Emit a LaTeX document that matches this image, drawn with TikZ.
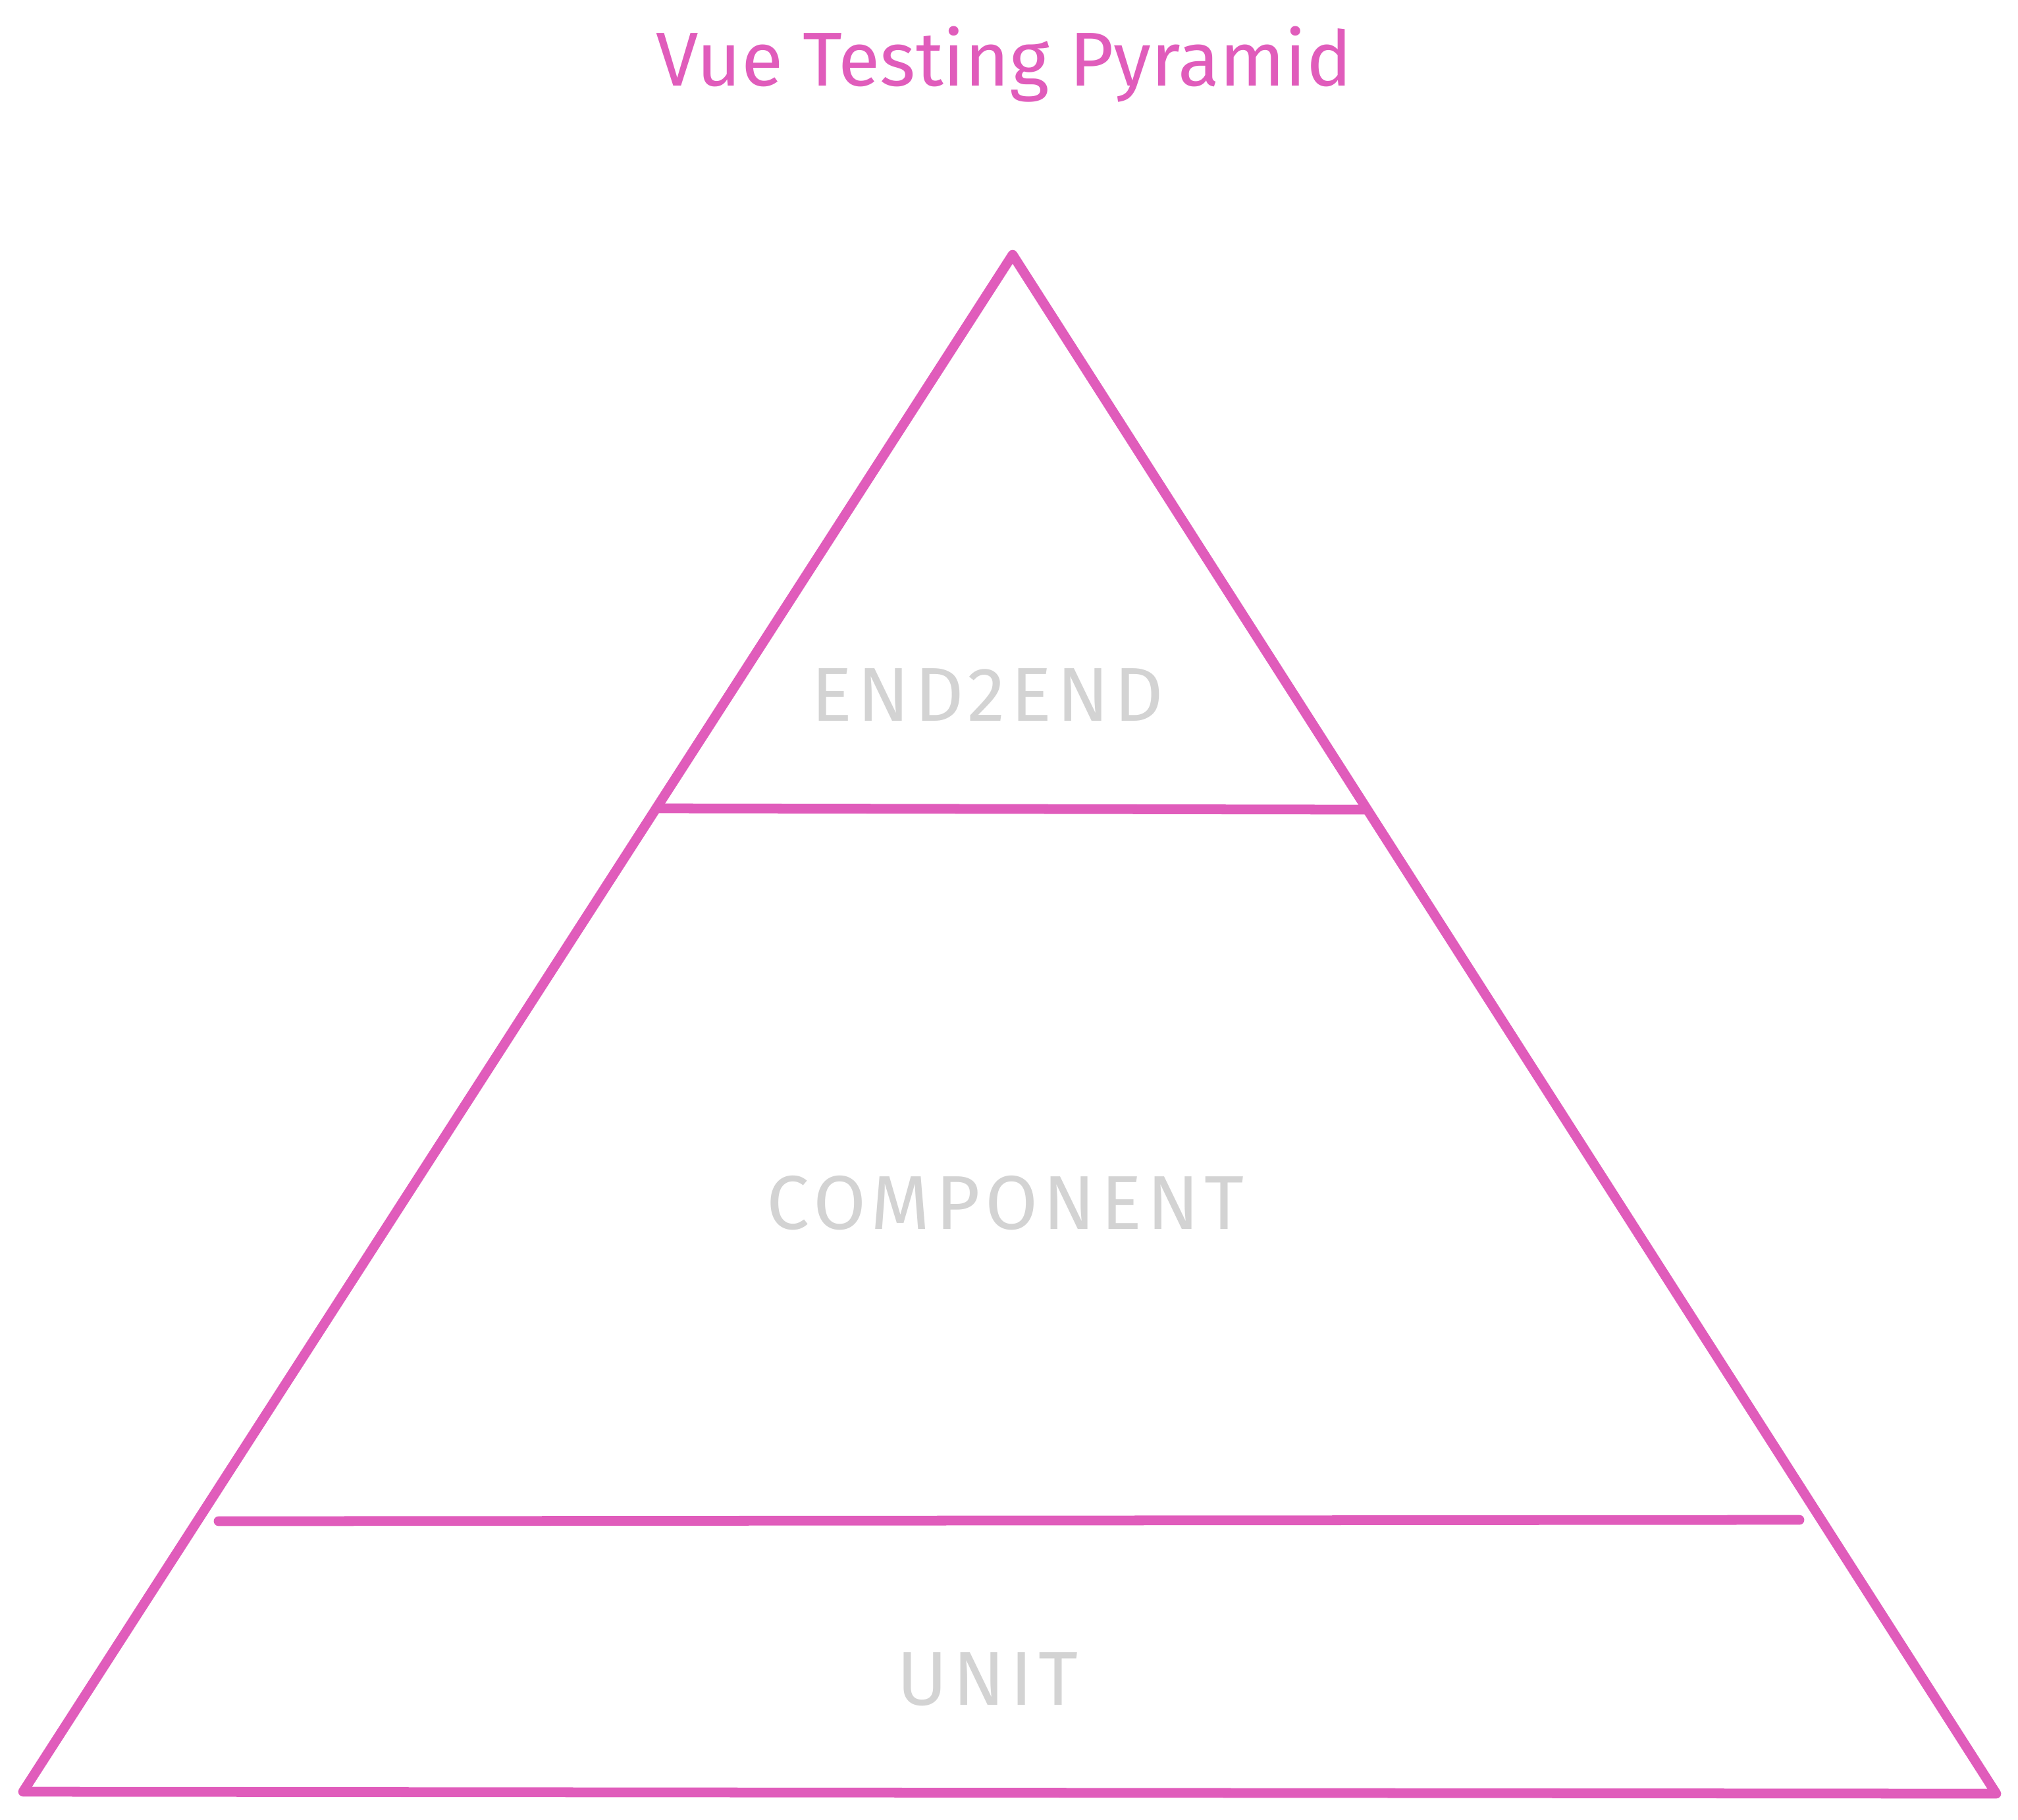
\documentclass[tikz,border=0pt]{standalone}
\usepackage{fontspec}
\setmainfont{Fira Sans}
\newfontfamily\lblfont{Fira Sans}[LetterSpace=7]
\usepackage{tikz}

\definecolor{pyrpink}{RGB}{224,92,187}
\definecolor{lblgrey}{RGB}{211,211,211}

\tikzset{
  pyrline/.style={line width=4.2pt, draw=pyrpink, line cap=round, line join=round},
  layerlbl/.style={text=lblgrey, font=\lblfont\fontsize{33}{40}\selectfont}
}

\begin{document}
\begin{tikzpicture}
\useasboundingbox (0,0) rectangle (30.65,-27.64);
% corners of the pyramid
\coordinate (apex) at (15.38,-3.87);
\coordinate (bl) at (0.35,-27.22);
\coordinate (br) at (30.32,-27.25);
\draw[pyrline] (apex) -- (bl) -- (br) -- cycle;
% layer dividers
\coordinate (topl) at (9.97,-12.28);
\coordinate (topr) at (20.76,-12.30);
\draw[pyrline] (topl) -- (topr);
\coordinate (lowl) at (3.32,-23.11);
\coordinate (lowr) at (27.33,-23.09);
\draw[pyrline] (lowl) -- (lowr);
% texts
\node[text=pyrpink, font=\fontsize{33}{40}\selectfont] (title) at (15.25,-0.98) {Vue Testing Pyramid};
\node[layerlbl] (e2e) at (15.00,-10.56) {END2END};
\node[layerlbl] (comp) at (15.27,-18.28) {COMPONENT};
\node[layerlbl] (unit) at (15.00,-25.51) {UNIT};
\end{tikzpicture}
\end{document}
